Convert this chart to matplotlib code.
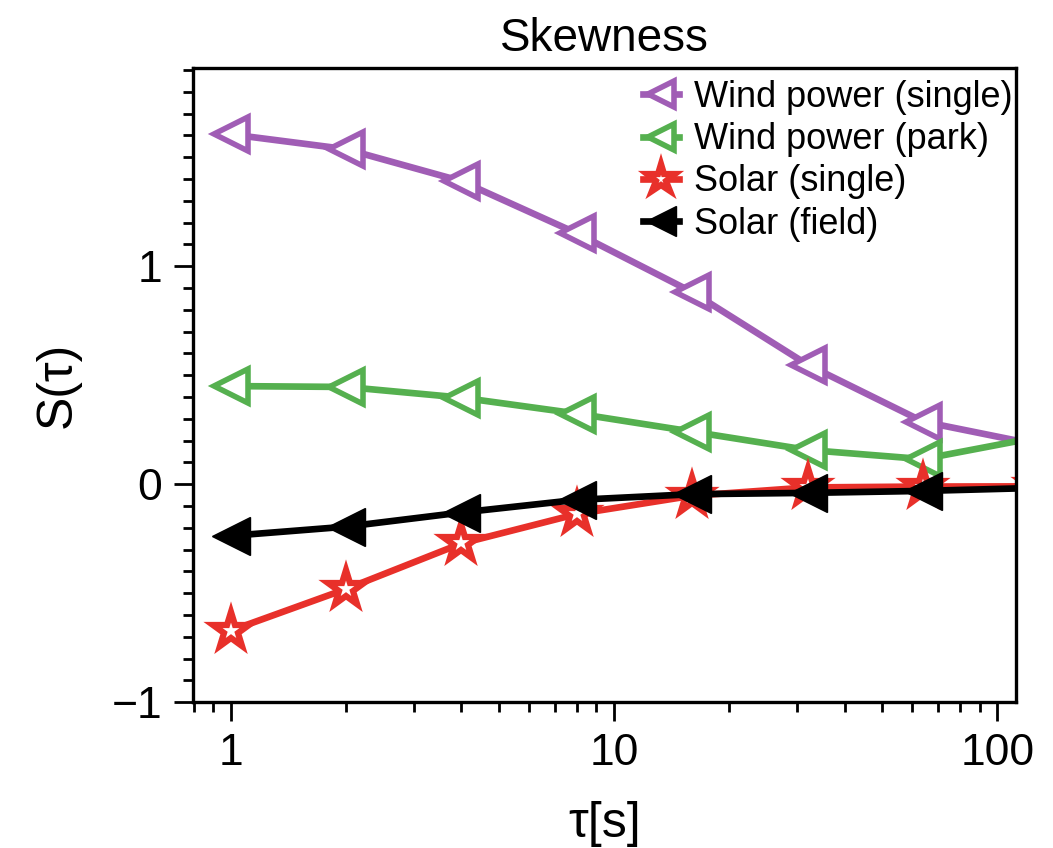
import matplotlib
matplotlib.use("Agg")
import matplotlib.pyplot as plt
from matplotlib.markers import MarkerStyle
from matplotlib.ticker import MultipleLocator, LogLocator, NullFormatter

plt.rcParams["font.family"] = ["Liberation Sans", "DejaVu Sans"]

TAU = [1, 2, 4, 8, 16, 32, 64, 128]
WIND_SINGLE = [1.605, 1.537, 1.39, 1.151, 0.881, 0.548, 0.287, 0.18]
WIND_PARK = [0.450, 0.446, 0.397, 0.324, 0.241, 0.157, 0.115, 0.216]
SOLAR_SINGLE = [-0.672, -0.481, -0.272, -0.137, -0.053, -0.015, -0.011, -0.010]
SOLAR_FIELD = [-0.237, -0.195, -0.130, -0.072, -0.046, -0.040, -0.031, -0.017]

fig = plt.figure(figsize=(10.53, 8.48), dpi=100)
ax = fig.add_axes([0.183, 0.172, 0.782, 0.748])

tri = MarkerStyle("<", joinstyle="miter")
star = MarkerStyle("*", joinstyle="miter")

lw = 4.8
ax.plot(TAU, WIND_SINGLE, color="#a05db5", lw=lw, marker=tri, ms=24,
        mfc="white", mec="#a05db5", mew=4.0, label="Wind power (single)")
ax.plot(TAU, WIND_PARK, color="#55b04f", lw=lw, marker=tri, ms=24,
        mfc="white", mec="#55b04f", mew=4.0, label="Wind power (park)")
ax.plot(TAU, SOLAR_SINGLE, color="#e8302a", lw=lw, marker=star, ms=27,
        mfc="white", mec="#e8302a", mew=4.5, label="Solar (single)")
ax.plot(TAU, SOLAR_FIELD, color="black", lw=lw, marker=tri, ms=27,
        mfc="black", mec="black", label="Solar (field)")

ax.set_xscale("log")
ax.set_xlim(0.796, 112)
ax.set_ylim(-1, 1.91)
ax.set_xticks([1, 10, 100])
ax.set_xticklabels(["1", "10", "100"])
ax.xaxis.set_minor_locator(LogLocator(base=10, subs=range(2, 10)))
ax.xaxis.set_minor_formatter(NullFormatter())
ax.set_yticks([-1, 0, 1])
ax.set_yticklabels(["\u22121", "0", "1"])
ax.yaxis.set_minor_locator(MultipleLocator(0.1))

ax.tick_params(which="both", direction="out", width=2, labelsize=32, top=False, right=False)
ax.tick_params(which="major", length=14, pad=8)
ax.tick_params(which="minor", length=7)
for s in ax.spines.values():
    s.set_linewidth(2.4)

ax.set_title("Skewness", fontsize=33, pad=12)
ax.set_xlabel("\u03c4[s]", fontsize=36, labelpad=20)
ax.set_ylabel("S(\u03c4)", fontsize=36, labelpad=22)

ax.legend(loc="upper right", bbox_to_anchor=(1.035, 1.032), frameon=False,
          fontsize=26, handlelength=1.0, handletextpad=0.4, labelspacing=0.2,
          numpoints=1, markerscale=0.8)

fig.savefig("out.png", dpi=100)
